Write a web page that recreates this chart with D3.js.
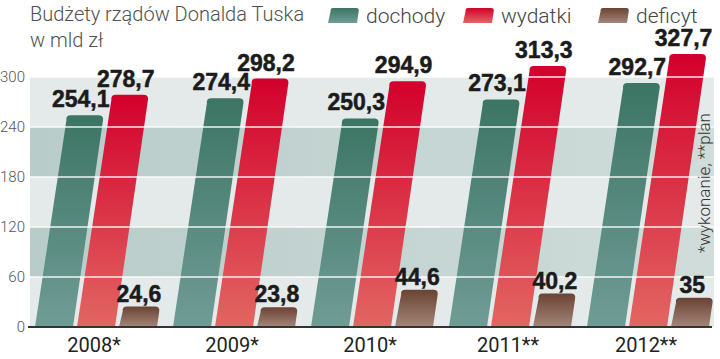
<!DOCTYPE html>
<html>
<head>
<meta charset="utf-8">
<script src="https://cdn.jsdelivr.net/npm/d3@7"></script>
<style>
  html, body { margin: 0; padding: 0; background: #fff; }
  svg { display: block; }
  .title, .legend text, .tick text, .note { font-family: Roboto, "Liberation Sans", sans-serif; font-weight: 300; }
  .value { font-family: "Liberation Sans Narrow", "Liberation Sans", sans-serif; font-weight: bold; fill: #1b1b1b; }
  .year { font-family: Roboto, sans-serif; font-weight: 400; fill: #222; }
</style>
</head>
<body>
<svg id="chart" width="720" height="359"></svg>
<script>
"use strict";

// data
const years = ["2008*", "2009*", "2010*", "2011**", "2012**"];
const dochody = [254.1, 274.4, 250.3, 273.1, 292.7];
const wydatki = [278.7, 298.2, 294.9, 313.3, 327.7];
const deficyt = [24.6, 23.8, 44.6, 40.2, 35];
const seriesNames = ["dochody", "wydatki", "deficyt"];
const yTicks = [0, 60, 120, 180, 240, 300];

const seriesValues = {dochody, wydatki, deficyt};
const colors = {
    dochody: ["#3c7564", "#709c96"],
    wydatki: ["#d3002c", "#e26662"],
    deficyt: ["#6a4333", "#a3867a"],
};

const SLANT = 0.145; // bars lean to the right
const plotLeft = 30, plotRight = 714;

const svg = d3.select("#chart");
const defs = svg.append("defs");

for (const name of seriesNames) {
    const g = defs.append("linearGradient")
        .attr("id", `grad-${name}`)
        .attr("x1", 0).attr("y1", 0).attr("x2", 0).attr("y2", 1);
    g.append("stop").attr("offset", 0).attr("stop-color", colors[name][0]);
    g.append("stop").attr("offset", 1).attr("stop-color", colors[name][1]);
}
const bandGrad = defs.append("linearGradient")
    .attr("id", "band-dark")
    .attr("gradientUnits", "userSpaceOnUse")
    .attr("x1", plotLeft).attr("x2", plotRight).attr("y1", 0).attr("y2", 0);
bandGrad.append("stop").attr("offset", 0).attr("stop-color", "#b8ccc9");
bandGrad.append("stop").attr("offset", 1).attr("stop-color", "#cfdcda");

const y = d3.scaleLinear().domain([0, 300]).range([327, 77]);
const x0 = d3.scaleBand().domain(years).range([25, 715]);
const x1 = d3.scaleBand().domain(seriesNames).range([10, 132]).paddingInner(4 / 42);

const fmt = d3.formatLocale({decimal: ",", thousands: " ", grouping: [3], currency: ["", " zł"]}).format(".1~f");

/** slanted bar with rounded top corners */
function barPath(xl, w, yTop, yBase, r) {
    const h = yBase - yTop;
    const dx = SLANT * h;
    const len = Math.hypot(dx, h);
    const ux = dx / len, uy = h / len;
    const p = d3.path();
    p.moveTo(xl, yBase);
    p.lineTo(xl + w, yBase);
    p.lineTo(xl + w + dx - ux * r, yTop + uy * r);
    p.quadraticCurveTo(xl + w + dx, yTop, xl + w + dx - r, yTop);
    p.lineTo(xl + dx + r, yTop);
    p.quadraticCurveTo(xl + dx, yTop, xl + dx + ux * r, yTop + uy * r);
    p.closePath();
    return p.toString();
}

// background bands
const bands = d3.pairs(yTicks);
svg.append("g").classed("bands", true)
    .selectAll("rect")
    .data(bands)
    .join("rect")
    .attr("x", plotLeft)
    .attr("width", plotRight - plotLeft)
    .attr("y", d => y(d[1]))
    .attr("height", d => y(d[0]) - y(d[1]))
    .attr("fill", (d, i) => i % 2 ? "url(#band-dark)" : "#e4eaea");

// bars
const groups = svg.append("g").classed("bars", true)
    .selectAll("g.group")
    .data(years)
    .join("g")
    .classed("group", true)
    .attr("transform", d => `translate(${x0(d)},0)`);

const barData = (year, i) => seriesNames.map(name => ({name, value: seriesValues[name][i]}));

groups.selectAll("path")
    .data(barData)
    .join("path")
    .attr("d", d => barPath(x1(d.name), x1.bandwidth(), y(d.value), y(0), 5))
    .attr("fill", d => `url(#grad-${d.name})`);

// grid lines drawn over the bars
svg.append("g").classed("grid", true)
    .selectAll("line")
    .data(yTicks.slice(1))
    .join("line")
    .attr("x1", plotLeft).attr("x2", plotRight)
    .attr("y1", d => y(d)).attr("y2", d => y(d))
    .attr("stroke", "#fff")
    .attr("stroke-opacity", 0.9)
    .attr("stroke-width", 1.6);

// value labels, on top of everything
const labels = svg.append("g").classed("labels", true)
    .selectAll("g")
    .data(years)
    .join("g")
    .attr("transform", d => `translate(${x0(d)},0)`);

labels.selectAll("text")
    .data(barData)
    .join("text")
    .classed("value", true)
    .attr("x", d => x1(d.name) + x1.bandwidth() / 2 + SLANT * (y(0) - y(d.value)) - (d.name === "deficyt" ? 2 : 4))
    .attr("y", d => y(d.value) - (d.name === "deficyt" ? 5 : 8))
    .attr("text-anchor", "middle")
    .attr("font-size", 23)
    .attr("stroke", "#1b1b1b")
    .attr("stroke-width", 0.5)
    .text(d => fmt(d.value));

// zero line
svg.append("line")
    .attr("x1", 28).attr("x2", 712)
    .attr("y1", y(0)).attr("y2", y(0))
    .attr("stroke", "#333")
    .attr("stroke-width", 2);

// y axis labels
svg.append("g").classed("tick", true)
    .selectAll("text")
    .data(yTicks)
    .join("text")
    .attr("x", 25)
    .attr("y", d => y(d))
    .attr("dy", "0.36em")
    .attr("text-anchor", "end")
    .attr("font-size", 15)
    .attr("fill", "#555")
    .text(d => d);

// year labels
svg.append("g")
    .selectAll("text")
    .data(years)
    .join("text")
    .classed("year", true)
    .attr("x", d => x0(d) + x0.bandwidth() / 2)
    .attr("y", 352)
    .attr("text-anchor", "middle")
    .attr("font-size", 20)
    .text(d => d);

// title
svg.append("text").classed("title", true)
    .attr("x", 30).attr("y", 21)
    .attr("font-size", 20).attr("fill", "#505050")
    .text("Budżety rządów Donalda Tuska");
svg.append("text").classed("title", true)
    .attr("x", 30).attr("y", 47)
    .attr("font-size", 20).attr("fill", "#505050")
    .text("w mld zł");

// legend
const legendX = [328, 463, 598];
const legend = svg.append("g").classed("legend", true)
    .selectAll("g")
    .data(seriesNames)
    .join("g")
    .attr("transform", (d, i) => `translate(${legendX[i]},0)`);
legend.append("path")
    .attr("d", barPath(0, 29, 8, 23, 3))
    .attr("fill", d => `url(#grad-${d})`);
legend.append("text")
    .attr("x", 38).attr("y", 23)
    .attr("font-size", 21).attr("fill", "#444")
    .text(d => d);

// footnote
svg.append("text").classed("note", true)
    .attr("transform", "translate(710,253) rotate(-90)")
    .attr("font-size", 17)
    .attr("fill", "#333")
    .text("*wykonanie, **plan");
</script>
</body>
</html>
